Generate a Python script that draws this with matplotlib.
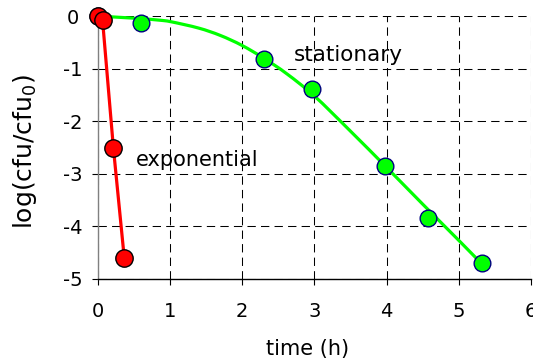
import matplotlib
matplotlib.use("Agg")
import matplotlib.pyplot as plt
from matplotlib.path import Path
from matplotlib.patches import PathPatch
import numpy as np

plt.rcParams["axes.unicode_minus"] = False

# Survival data: log reduction vs time
exp_time = [0.0, 0.07, 0.22, 0.37]
exp_log = [0.0, -0.08, -2.51, -4.60]

stat_time = [0.0, 0.60, 2.31, 2.97, 3.98, 4.57, 5.32]
stat_log = [0.0, -0.13, -0.81, -1.39, -2.86, -3.85, -4.71]

# fitted inactivation curve for the stationary phase
fit_time = [0.0, 0.3, 0.6, 0.86, 1.02, 1.4, 1.7, 2.0, 2.31, 2.62, 3.0, 3.5, 4.0, 4.5, 5.0, 5.32]
fit_log = [0.0, -0.025, -0.05, -0.08, -0.11, -0.23, -0.37, -0.56, -0.81, -1.10, -1.52,
           -2.19, -2.88, -3.58, -4.27, -4.72]

x_ticks = [0, 1, 2, 3, 4, 5, 6]
y_ticks = [0, -1, -2, -3, -4, -5]


def smooth_path(xs, ys):
    """Cubic Bezier path through the given points (Catmull-Rom tangents)."""
    pts = np.column_stack([xs, ys])
    ext = np.vstack([pts[0], pts, pts[-1]])
    verts = [tuple(pts[0])]
    codes = [Path.MOVETO]
    for i in range(len(pts) - 1):
        p_prev, p0, p1, p_next = ext[i], ext[i + 1], ext[i + 2], ext[i + 3]
        verts += [tuple(p0 + (p1 - p_prev) / 6.0), tuple(p1 - (p_next - p0) / 6.0), tuple(p1)]
        codes += [Path.CURVE4] * 3
    return Path(verts, codes)


W, H = 533, 363
fig = plt.figure(figsize=(W / 100, H / 100), dpi=100)
ax = fig.add_axes([97.5 / W, 1 - 278.7 / H, (531 - 97.5) / W, (278.7 - 16) / H])

ax.set_xlim(0, 6)
ax.set_ylim(-5, 0)
ax.set_xticks(x_ticks, labels=[str(v) for v in x_ticks],
              fontfamily="DejaVu Sans", fontsize=14)
ax.set_yticks(y_ticks, labels=[str(v) for v in y_ticks],
              fontfamily="DejaVu Sans", fontsize=14, ha="center")

# dashed grid
ax.grid(True, color="black", linewidth=0.75, linestyle=(0, (8, 5)))
ax.set_axisbelow(True)

for side in ("top", "right"):
    ax.spines[side].set_visible(False)
ax.spines["left"].set_color("#808080")
ax.spines["left"].set_linewidth(1.0)
ax.spines["bottom"].set_color("black")
ax.spines["bottom"].set_linewidth(1.0)

ax.tick_params(axis="both", direction="out", length=4.3, width=0.8, color="black")
ax.tick_params(axis="x", pad=12.5)
ax.tick_params(axis="y", pad=13.3)

# stationary phase: fitted curve + measurements
ax.add_patch(PathPatch(smooth_path(fit_time, fit_log), facecolor="none",
                       edgecolor="#00FF00", linewidth=2.3, transform=ax.transData,
                       clip_on=False, zorder=3, capstyle="round"))
ax.plot(stat_time, stat_log, linestyle="none", marker="o", markersize=12,
        markerfacecolor="#00FF00", markeredgecolor="#000080", markeredgewidth=1.0,
        clip_on=False, zorder=4)

# exponential phase
ax.plot(exp_time, exp_log, color="#FF0000", linewidth=2.3, clip_on=False, zorder=5)
ax.plot(exp_time, exp_log, linestyle="none", marker="o", markersize=12.5,
        markerfacecolor="#FF0000", markeredgecolor="black", markeredgewidth=1.0,
        clip_on=False, zorder=6)

ax.text(2.72, -0.74, "stationary", fontsize=15.5, ha="left", va="center")
ax.text(0.53, -2.74, "exponential", fontsize=15, ha="left", va="center")

ax.set_xlabel("time (h)", fontsize=15, va="center", ha="center")
ax.xaxis.set_label_coords(0.4856, -0.268)
ax.set_ylabel("log(cfu/cfu$_0$)", fontsize=18, va="center", ha="center")
ax.yaxis.set_label_coords(-0.167, 0.482)

fig.savefig("out.png", dpi=100)
